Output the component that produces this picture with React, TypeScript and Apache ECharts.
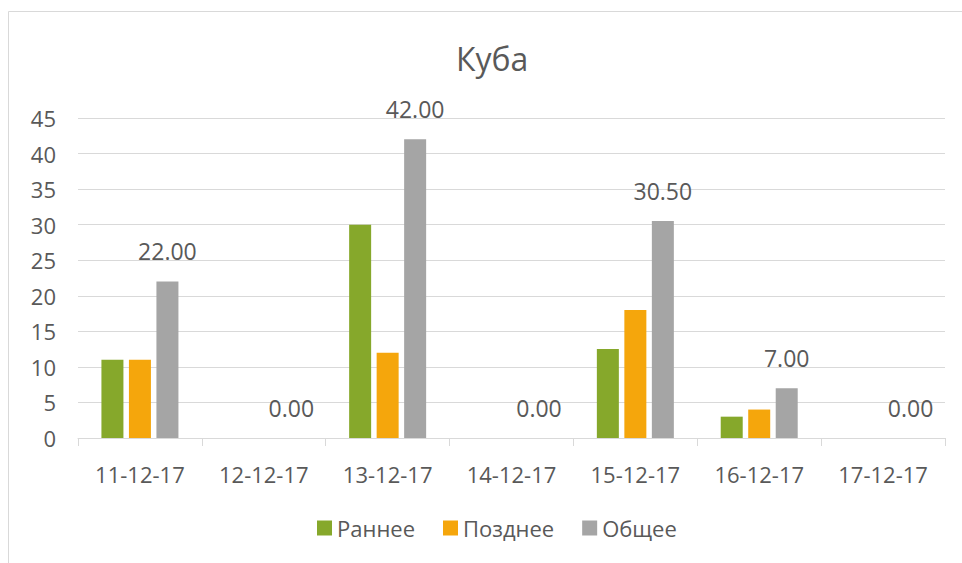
import React, { useEffect, useRef } from "react";
import * as echarts from "echarts";

const categories = ["11-12-17", "12-12-17", "13-12-17", "14-12-17", "15-12-17", "16-12-17", "17-12-17"];
const early = [11, 0, 30, 0, 12.5, 3, 0];
const late = [11, 0, 12, 0, 18, 4, 0];
const total = [22, 0, 42, 0, 30.5, 7, 0];
const seriesNames = ["Раннее", "Позднее", "Общее"];
const colors = ["#86A82B", "#F5A60C", "#A5A5A5"];

const FONT = "'Open Sans', 'Noto Sans', sans-serif";
const TXT = "#595959";

export default function App() {
  const ref = useRef<HTMLDivElement>(null);
  useEffect(() => {
    if (!ref.current) return;
    const chart = echarts.init(ref.current, null, { renderer: "svg" });
    chart.setOption({
      animation: false,
      backgroundColor: "#ffffff",
      textStyle: { fontFamily: FONT },
      title: {
        text: "Куба",
        left: 451,
        top: 37,
        textStyle: { fontFamily: FONT, fontSize: 32, fontWeight: "normal", color: TXT },
      },
      graphic: [
        {
          type: "rect",
          shape: { x: 8.5, y: 11.5, width: 1000, height: 1000 },
          style: { fill: "none", stroke: "#d9d9d9", lineWidth: 1 },
          silent: true,
        },
      ],
      legend: {
        left: 312,
        top: 512,
        icon: "rect",
        itemWidth: 15,
        itemHeight: 15,
        itemGap: 28,
        textStyle: { fontFamily: FONT, fontSize: 22, color: TXT },
        data: seriesNames,
      },
      grid: { left: 78, right: 17, top: 118, bottom: 125, containLabel: false },
      xAxis: {
        type: "category",
        data: categories,
        axisLine: { lineStyle: { color: "#d9d9d9" } },
        axisTick: { show: true, length: 8, lineStyle: { color: "#d9d9d9" } },
        axisLabel: { fontFamily: FONT, fontSize: 22, color: TXT, margin: 25 },
      },
      yAxis: {
        type: "value",
        min: 0,
        max: 45,
        interval: 5,
        axisLine: { show: false },
        axisTick: { show: false },
        splitLine: { lineStyle: { color: "#d9d9d9" } },
        axisLabel: { fontFamily: FONT, fontSize: 22, color: TXT, margin: 22 },
      },
      series: [
        { name: seriesNames[0], type: "bar", data: early, barWidth: 22, barGap: "25%", itemStyle: { color: colors[0] } },
        { name: seriesNames[1], type: "bar", data: late, barWidth: 22, barGap: "25%", itemStyle: { color: colors[1] } },
        {
          name: seriesNames[2],
          type: "bar",
          data: total,
          barWidth: 22,
          barGap: "25%",
          itemStyle: { color: colors[2] },
          label: {
            show: true,
            position: "top",
            distance: 19,
            fontFamily: FONT,
            fontSize: 23,
            color: TXT,
            formatter: (p: any) => Number(p.value).toFixed(2),
          },
        },
      ],
    });
    return () => chart.dispose();
  }, []);
  return (
    <div
      ref={ref}
      style={{ position: "absolute", left: 0, top: 0, width: 962, height: 563 }}
    />
  );
}
